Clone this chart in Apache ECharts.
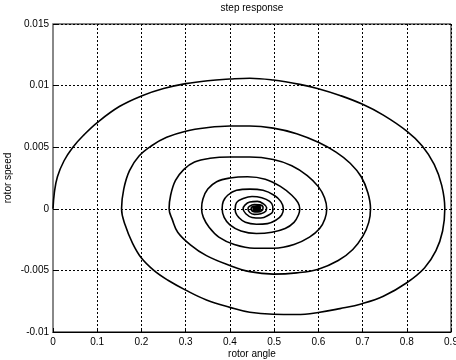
<!DOCTYPE html>
<html>
<head>
<meta charset="utf-8">
<script src="https://cdn.jsdelivr.net/npm/echarts@6/dist/echarts.min.js"></script>
<style>
  html, body { margin: 0; padding: 0; background: #fff; }
  #chart { width: 456px; height: 360px; }
</style>
</head>
<body>
<div id="chart"></div>
<script>
// Phase-plane trajectory of the rotor after a step input:
// rotor angle (x) against rotor speed (y), spiralling in to the equilibrium.
const rotorAngle = [
  // first swing
  0, 0.003, 0.01, 0.025, 0.045, 0.07, 0.1, 0.15, 0.2, 0.25, 0.3, 0.35, 0.4, 0.445,
  0.498, 0.558, 0.6, 0.649, 0.699, 0.747, 0.8, 0.835, 0.862, 0.879, 0.886,
  0.881, 0.866, 0.84, 0.8, 0.747, 0.699, 0.649, 0.6, 0.551, 0.498, 0.445,
  0.4, 0.347, 0.3, 0.26, 0.228, 0.2, 0.18, 0.163, 0.155,
  // second swing
  0.16, 0.173, 0.195, 0.222, 0.257, 0.3, 0.347, 0.4, 0.445, 0.498, 0.551, 0.6,
  0.64, 0.672, 0.697, 0.712, 0.718,
  0.714, 0.701, 0.678, 0.645, 0.6, 0.551, 0.498, 0.445, 0.4, 0.347, 0.31, 0.282, 0.27, 0.2625,
  // third swing
  0.266, 0.277, 0.296, 0.32, 0.355, 0.4, 0.445, 0.498, 0.54, 0.575, 0.6, 0.614, 0.619,
  0.615, 0.603, 0.58, 0.545, 0.5, 0.455, 0.41, 0.375, 0.353, 0.34, 0.336,
  // fourth swing
  0.339, 0.35, 0.37, 0.4, 0.44, 0.48, 0.515, 0.54, 0.554, 0.558,
  0.555, 0.545, 0.525, 0.495, 0.46, 0.425, 0.4, 0.387, 0.3825,
  // settling
  0.385, 0.395, 0.415, 0.445, 0.475, 0.5, 0.515, 0.521,
  0.517, 0.505, 0.485, 0.46, 0.435, 0.42, 0.413, 0.412,
  0.415, 0.428, 0.45, 0.472, 0.49, 0.497, 0.497, 0.488, 0.47, 0.45, 0.436, 0.43,
  0.434, 0.445, 0.462, 0.476, 0.483, 0.481, 0.47, 0.455, 0.445, 0.441,
  0.444, 0.455, 0.468, 0.475, 0.473, 0.463, 0.452, 0.448,
  0.451, 0.461, 0.469, 0.468, 0.46, 0.453, 0.4525, 0.456, 0.464, 0.466, 0.462, 0.456,
  0.456, 0.461, 0.464, 0.46, 0.458, 0.461, 0.462
];
const rotorSpeed = [
  // first swing
  0, 0.0013, 0.0026, 0.0039, 0.005, 0.006, 0.007, 0.0083, 0.00916, 0.00976, 0.01016, 0.0104, 0.01053, 0.0106,
  0.01045, 0.0101, 0.00975, 0.0092, 0.0085, 0.0076, 0.0063, 0.0051, 0.0036, 0.0019, 0,
  -0.0018, -0.0034, -0.0048, -0.006, -0.0071, -0.0077, -0.0081, -0.00842, -0.00858, -0.00856, -0.0084,
  -0.008, -0.0074, -0.0066, -0.0058, -0.005, -0.004, -0.0028, -0.0013, 0,
  // second swing
  0.0016, 0.0031, 0.0043, 0.0051, 0.0058, 0.0063, 0.00658, 0.00672, 0.00672, 0.00655, 0.0061, 0.0054,
  0.0046, 0.0037, 0.0026, 0.0013, 0,
  -0.0011, -0.0022, -0.0033, -0.0042, -0.0049, -0.0052, -0.0053, -0.0051, -0.0046, -0.0038, -0.0029, -0.0019, -0.0009, 0,
  // third swing
  0.0011, 0.0023, 0.0032, 0.0038, 0.0041, 0.0042, 0.0042, 0.004, 0.0035, 0.0027, 0.0018, 0.0009, 0,
  -0.0008, -0.0016, -0.0023, -0.0029, -0.0032, -0.0032, -0.0029, -0.0023, -0.0015, -0.0007, 0,
  // fourth swing
  0.0008, 0.0016, 0.0022, 0.0025, 0.0026, 0.0024, 0.0018, 0.0011, 0.0005, 0,
  -0.0005, -0.0011, -0.0016, -0.0019, -0.002, -0.0018, -0.0013, -0.0007, 0,
  // settling
  0.0006, 0.0011, 0.0015, 0.0016, 0.0015, 0.0011, 0.0006, 0,
  -0.0005, -0.0009, -0.0012, -0.00125, -0.0011, -0.0007, -0.0003, 0,
  0.0005, 0.0008, 0.001, 0.0009, 0.0006, 0.0002, -0.0002, -0.0005, -0.00075, -0.0007, -0.0004, 0,
  0.0003, 0.00055, 0.0006, 0.0004, 0.0001, -0.0002, -0.0004, -0.00045, -0.0003, 0,
  0.0002, 0.00035, 0.00032, 0.0001, -0.00012, -0.00026, -0.00022, 0,
  0.00016, 0.00022, 0.0001, -0.0001, -0.00017, -0.0001, 0, 0.00012, 0.0001, 0, -0.0001, -0.00006,
  0.00005, 0.00006, 0, -0.00005, 0, 0.00003, 0
];
const angleTicks = { min: 0, max: 0.9, step: 0.1 };
const speedTicks = { min: -0.01, max: 0.015, step: 0.005 };

const trajectory = rotorAngle.map((a, i) => [a, rotorSpeed[i]]);

const font = 'Liberation Sans, Arial, sans-serif';
const chart = echarts.init(document.getElementById('chart'), null, { renderer: 'canvas' });
chart.setOption({
  animation: false,
  backgroundColor: '#fff',
  title: {
    text: 'step response',
    left: 252,
    top: 3,
    padding: 0,
    textAlign: 'center',
    textStyle: { fontFamily: font, fontSize: 10, fontWeight: 'normal', color: '#000' }
  },
  grid: {
    left: 53, top: 24, right: 5, bottom: 28,
    outerBoundsMode: 'none',
    containLabel: false,
    show: true, borderColor: '#000', borderWidth: 1, backgroundColor: '#fff'
  },
  xAxis: {
    type: 'value',
    min: angleTicks.min, max: angleTicks.max, interval: angleTicks.step,
    name: 'rotor angle',
    nameLocation: 'middle',
    nameGap: 17,
    nameMoveOverlap: false,
    nameTextStyle: { fontFamily: font, fontSize: 10, color: '#000' },
    axisLine: { show: true, onZero: false, lineStyle: { color: '#000', width: 1 } },
    axisTick: { show: true, inside: true, length: 4, lineStyle: { color: '#000' } },
    axisLabel: {
      fontFamily: font, fontSize: 10, color: '#000', margin: 5,
      formatter: v => String(+v.toFixed(1))
    },
    splitLine: { show: true, lineStyle: { color: '#000', type: [2, 2], width: 1 } }
  },
  yAxis: {
    type: 'value',
    min: speedTicks.min, max: speedTicks.max, interval: speedTicks.step,
    name: 'rotor speed',
    nameLocation: 'middle',
    nameGap: 40,
    nameMoveOverlap: false,
    nameTextStyle: { fontFamily: font, fontSize: 10, color: '#000' },
    axisLine: { show: true, onZero: false, lineStyle: { color: '#888', width: 2 } },
    axisTick: { show: true, inside: true, length: 4, lineStyle: { color: '#000' } },
    axisLabel: {
      fontFamily: font, fontSize: 10, color: '#000', margin: 4,
      formatter: v => String(+v.toFixed(3))
    },
    splitLine: { show: true, lineStyle: { color: '#000', type: [2, 2], width: 1 } }
  },
  series: [{
    type: 'line',
    data: trajectory,
    showSymbol: false,
    symbol: 'none',
    smooth: 0.4,
    lineStyle: { color: '#000', width: 1.6 }
  }]
});
</script>
</body>
</html>
